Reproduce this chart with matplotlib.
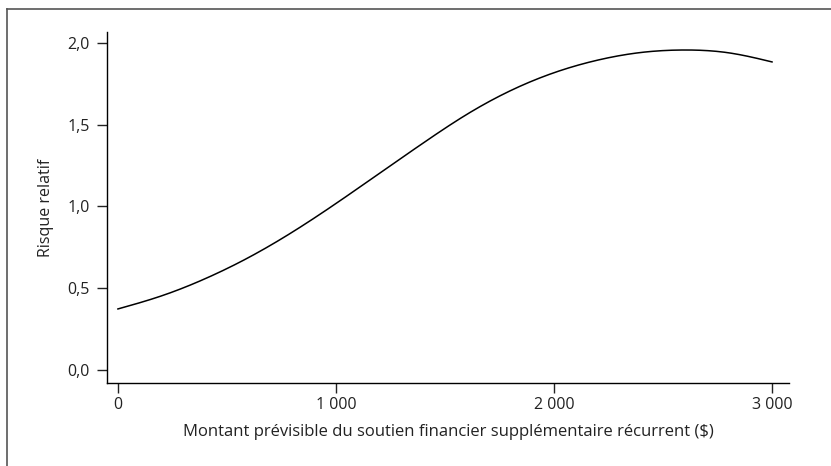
import numpy as np
import matplotlib
matplotlib.use("Agg")
import matplotlib.pyplot as plt
from matplotlib.lines import Line2D
from matplotlib.ticker import FuncFormatter

plt.rcParams['font.family'] = ['Open Sans', 'DejaVu Sans']

# valeurs
montant = [0, 200, 400, 600, 800, 1000, 1200, 1400, 1600, 1800, 2000, 2200, 2400, 2600, 2800, 3000]
risque = [0.373, 0.453, 0.558, 0.688, 0.843, 1.018, 1.203, 1.388, 1.563, 1.708, 1.818, 1.895,
          1.942, 1.957, 1.940, 1.884]

x_ticks = [0, 1000, 2000, 3000]
y_ticks = [0.0, 0.5, 1.0, 1.5, 2.0]

# lissage par spline cubique naturelle (tracé seulement)
def spline(x, y, xs):
    x = np.asarray(x, float); y = np.asarray(y, float)
    n = len(x)
    h = np.diff(x)
    A = np.zeros((n, n)); b = np.zeros(n)
    A[0, 0] = A[-1, -1] = 1
    for i in range(1, n - 1):
        A[i, i - 1] = h[i - 1]
        A[i, i] = 2 * (h[i - 1] + h[i])
        A[i, i + 1] = h[i]
        b[i] = 6 * ((y[i + 1] - y[i]) / h[i] - (y[i] - y[i - 1]) / h[i - 1])
    M = np.linalg.solve(A, b)
    idx = np.clip(np.searchsorted(x, xs) - 1, 0, n - 2)
    x0, x1 = x[idx], x[idx + 1]
    hh = x1 - x0
    t0, t1 = x1 - xs, xs - x0
    return (M[idx] * t0**3 / (6 * hh) + M[idx + 1] * t1**3 / (6 * hh)
            + (y[idx] / hh - M[idx] * hh / 6) * t0
            + (y[idx + 1] / hh - M[idx + 1] * hh / 6) * t1)

xs = np.linspace(montant[0], montant[-1], 400)
ys = spline(montant, risque, xs)

fig = plt.figure(figsize=(8.31, 4.66), dpi=100)
ax = fig.add_axes([0.1288, 0.1781, 0.8207, 0.7532])

ax.plot(xs, ys, color='black', lw=1.1)

ax.set_xlim(-50, 3078)
ax.set_ylim(-0.08, 2.067)
ax.set_xticks(x_ticks)
ax.set_yticks(y_ticks)
ax.xaxis.set_major_formatter(FuncFormatter(lambda v, p: f"{int(v):,}".replace(",", " ")))
ax.yaxis.set_major_formatter(FuncFormatter(lambda v, p: f"{v:.1f}".replace(".", ",")))

for s in ['top', 'right']:
    ax.spines[s].set_visible(False)
for s in ['left', 'bottom']:
    ax.spines[s].set_linewidth(1.0)
ax.tick_params(direction='out', length=7.2, width=1.0, labelsize=11.5, colors='#222222')
ax.tick_params(axis='y', pad=5)
ax.tick_params(axis='x', pad=3)

ax.set_xlabel("Montant prévisible du soutien financier supplémentaire récurrent ($)",
              fontsize=12, labelpad=8, color='#222222')
ax.set_ylabel("Risque relatif", fontsize=11.5, labelpad=10, color='#222222')

# cadre de la figure (gauche et haut)
fig.add_artist(Line2D([7 / 831, 7 / 831], [0, 1 - 9 / 466], transform=fig.transFigure,
                      color='#555555', lw=1.2))
fig.add_artist(Line2D([7 / 831, 1], [1 - 9 / 466, 1 - 9 / 466], transform=fig.transFigure,
                      color='#555555', lw=1.2))

fig.savefig("out.png", dpi=100)
